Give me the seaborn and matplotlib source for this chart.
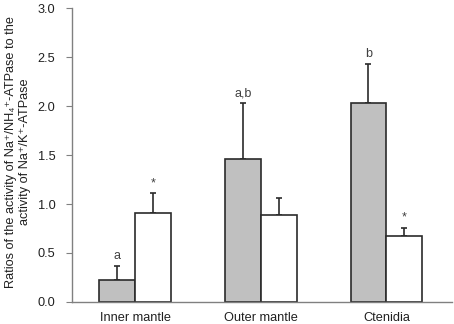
import pandas as pd
import numpy as np
import matplotlib
matplotlib.use('Agg')
import matplotlib.pyplot as plt
import seaborn as sns

# Values
tissues = ['Inner mantle', 'Outer mantle', 'Ctenidia']
grey_means = [0.22, 1.46, 2.03]
grey_errs = [0.15, 0.57, 0.40]
white_means = [0.91, 0.89, 0.67]
white_errs = [0.20, 0.17, 0.09]
grey_marks = ['a', 'a,b', 'b']
white_marks = ['*', '', '*']
y_ticks = [0.0, 0.5, 1.0, 1.5, 2.0, 2.5, 3.0]

sns.set_style('ticks')
plt.rcParams['font.family'] = ['Liberation Sans', 'DejaVu Sans']

df = pd.DataFrame({
    'tissue': tissues * 2,
    'group': ['grey'] * 3 + ['white'] * 3,
    'ratio': grey_means + white_means,
})

fig = plt.figure(figsize=(4.54, 3.24), dpi=100)
ax = fig.add_axes([0.159, 0.068, 0.836, 0.907])

sns.barplot(data=df, x='tissue', y='ratio', hue='group',
            palette={'grey': '#c0c0c0', 'white': '#ffffff'},
            width=0.57, gap=0, edgecolor='#2b2b2b', linewidth=1.2,
            legend=False, ax=ax, errorbar=None, zorder=2)

# error bars (upper only) and significance marks on top of each bar
bars = [p for p in ax.patches if p.get_height() > 0]
bars = sorted(bars, key=lambda p: p.get_x())
means = []
errs = []
marks = []
for i in range(len(tissues)):
    means += [grey_means[i], white_means[i]]
    errs += [grey_errs[i], white_errs[i]]
    marks += [grey_marks[i], white_marks[i]]

for p, m, e, t in zip(bars, means, errs, marks):
    xc = p.get_x() + p.get_width() / 2
    ax.errorbar(xc, m, yerr=[[0], [e]], fmt='none', ecolor='#2b2b2b',
                elinewidth=1.2, capsize=2.5, capthick=1.2, zorder=1)
    if t:
        ax.text(xc, m + e + 0.04, t, ha='center', va='bottom',
                fontsize=9, color='#404040')

ax.set_ylim(0, 3.0)
ax.set_xlim(-0.5, 2.52)
ax.set_yticks(y_ticks)
ax.set_yticklabels([f'{v:.1f}' for v in y_ticks])
ax.tick_params(axis='y', length=4, color='#808080', labelsize=9.2,
               labelcolor='#202020', pad=8)
ax.tick_params(axis='x', length=0, labelsize=9.2, labelcolor='#202020', pad=7)
ax.set_xlabel('')
ax.set_ylabel('Ratios of the activity of Na\u207a/NH\u2084\u207a-ATPase to the\n'
              'activity of Na\u207a/K\u207a-ATPase',
              fontsize=9.2, color='#202020', linespacing=1.2)
ax.yaxis.set_label_coords(-0.108, 0.51)

sns.despine(ax=ax)
for side in ['left', 'bottom']:
    ax.spines[side].set_color('#808080')
    ax.spines[side].set_linewidth(1.0)

fig.savefig('out.png', dpi=100)
